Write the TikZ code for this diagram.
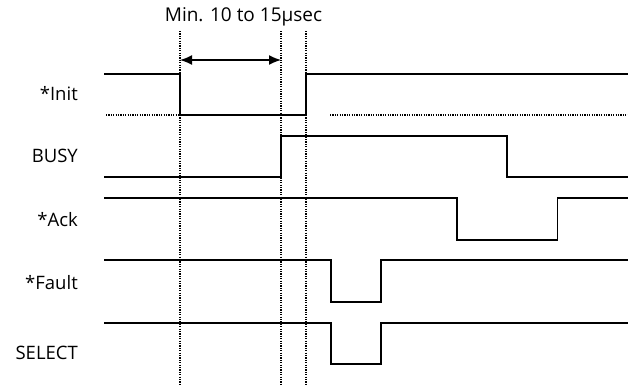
\documentclass[tikz,border=0pt]{standalone}
\usepackage{fontspec}
\setmainfont{Open Sans}
\usetikzlibrary{positioning, arrows.meta}

\begin{document}
\begin{tikzpicture}[
    x=1pt, y=-1pt,
    signal/.style={line width=1.4pt, line join=miter},
    guide/.style={line width=1.1pt, dash pattern=on 1.1pt off 1.3pt},
    siglabel/.style={anchor=base east, inner sep=0pt, font=\fontsize{18.5}{20}\selectfont},
]
\useasboundingbox (0,0) rectangle (628,384);

% --- timing marks ---
\foreach \t in {180, 281, 306} {
    \draw [guide] (\t,31) -- (\t,384);
}

\coordinate (pulsestart) at (180,60);
\coordinate (pulseend) at (281,60);

\node [
    anchor=base,
    inner sep=0pt,
    font=\fontsize{19}{20}\selectfont,
] (pulsewidth) at (243.5,21) {Min. 10 to 15µsec};

\draw [{Latex[length=12pt,width=10pt]}-{Latex[length=12pt,width=10pt]}, line width=1.5pt]
    (pulsestart) -- (pulseend);

% --- signal names ---
\node [siglabel] (init) at (78,100) {*Init};
\node [siglabel] (busy) at (78,162.5) {BUSY};
\node [siglabel] (ack) at (78,226.5) {*Ack};
\node [siglabel] (fault) at (78,289) {*Fault};
\node [siglabel] (select) at (78,359.5) {SELECT};

% --- waveforms ---
\draw [guide] (106,115) -- (180,115);
\draw [guide] (330,115) -- (628,115);
\draw [signal] (104,74) -- (180,74) -- (180,115) -- (306,115) -- (306,74) -- (628,74);

\draw [signal] (104,177) -- (281,177) -- (281,136) -- (507,136) -- (507,177) -- (628,177);

\draw [signal] (104,198) -- (457,198) -- (457,240) -- (557.5,240) -- (557.5,198) -- (628,198);

\draw [signal] (104,260) -- (331,260) -- (331,302) -- (381,302) -- (381,260) -- (628,260);

\draw [signal] (104,323) -- (331,323) -- (331,364) -- (381,364) -- (381,323) -- (628,323);

\end{tikzpicture}
\end{document}
